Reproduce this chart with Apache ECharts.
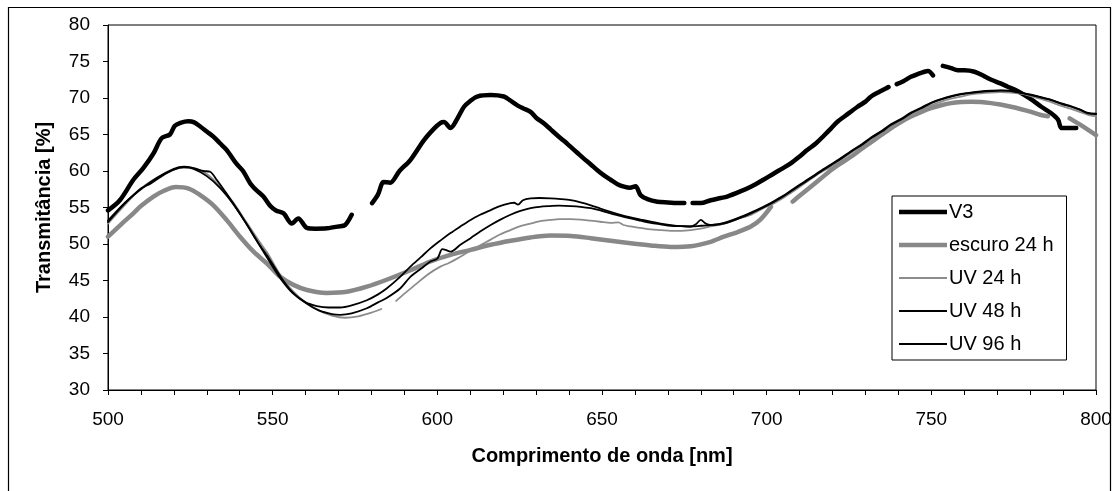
<!DOCTYPE html>
<html>
<head>
<meta charset="utf-8">
<script src="https://cdn.jsdelivr.net/npm/echarts@6/dist/echarts.min.js"></script>
<style>
html,body{margin:0;padding:0;background:#fff;}
#chart{width:1116px;height:491px;}
</style>
</head>
<body>
<div id="chart"></div>
<script>
// ---------- DATA ----------
const seriesNames = ['V3', 'escuro 24 h', 'UV 24 h', 'UV 48 h', 'UV 96 h'];
const xTicks = [500, 550, 600, 650, 700, 750, 800];
const yTicks = [30, 35, 40, 45, 50, 55, 60, 65, 70, 75, 80];

const v3X = [500,503.6,507.7,510.7,513.8,516.3,518.8,520.3,522,524.4,526,528,530,532,534,536,539,541,543.2,545,547.2,549.3,551,553.3,555.8,557.8,560.4,563,566.5,570,572,574,
  577,
  580.2,582,583.7,585.7,588.5,591.8,595.9,599,601,602,604,606.1,608.1,610,612.1,616.2,620.2,622,624.3,626,628.3,630,632.4,634.4,636.4,638.5,640.5,642.5,644.5,646.6,648.6,650.6,652.6,654.7,656.7,658.5,660.2,661.7,664,666.8,670,673.9,675,
  676.3,
  677.5,680,683,686,688,692,695.2,699,702.3,705,707.3,710,712.4,715,717.5,719.5,721.5,724,727.6,730,731.7,734,736.2,737,
  738.3,
  739.5,741.5,743.8,746,747.9,749,750.5,
  752,
  753.5,756,758,760,763.1,766,768.2,771,773.2,776,778.3,781,783.4,786.4,788.5,789.5,792,794];
const v3Y = [54.6,56.0,58.8,60.4,62.4,64.5,65.0,66.2,66.6,66.8,66.7,66.1,65.4,64.7,63.8,62.9,61.0,60.0,58.3,57.4,56.5,55.2,54.6,54.2,52.8,53.5,52.2,52.1,52.15,52.4,52.6,54.0,
  null,
  55.6,56.8,58.5,58.4,60.0,61.5,64.2,65.8,66.6,66.7,65.9,67.2,68.8,69.6,70.2,70.4,70.2,69.7,69.0,68.6,68.1,67.3,66.5,65.7,64.9,64.1,63.3,62.5,61.7,60.9,60.1,59.4,58.8,58.2,57.85,57.7,57.9,56.7,56.1,55.8,55.7,55.6,55.6,
  null,
  55.6,55.6,56.0,56.3,56.5,57.2,57.85,58.8,59.7,60.4,61.05,62.0,62.9,63.8,64.9,65.8,66.75,67.6,68.8,69.5,70.2,70.8,71.3,71.5,
  null,
  71.9,72.3,72.9,73.3,73.6,73.7,73.1,
  null,
  74.4,74.1,73.8,73.8,73.6,73.0,72.5,72.0,71.55,71.0,70.4,69.6,68.8,67.9,67.0,65.9,65.9,65.9];

const escuroX = [500,504,507.7,510,513.8,517,520.6,524.5,528,532,536,540.1,544.2,548.2,552.3,556.3,560.4,566.4,572.5,578.6,584.6,591.8,597.9,604,610.1,616.2,622.3,628.3,634.4,640.5,646.6,652.6,658.7,664.8,670.9,677,683,687,691,695.2,698,701.3,
  704.5,
  707.9,710,713.4,716,719.5,722,725.6,729,732.7,735,737.7,740,743.8,747,749.9,753,756,759,762.1,765,768.2,771,774.2,777,780.3,783,785.4,
  788.5,
  792,796,800];
const escuroY = [51.0,52.7,54.2,55.2,56.5,57.3,57.8,57.6,56.7,55.3,53.3,51.0,48.95,47.35,45.5,44.4,43.7,43.3,43.45,44.15,45.1,46.4,47.6,48.5,49.2,49.9,50.45,50.9,51.15,51.1,50.8,50.45,50.1,49.8,49.6,49.7,50.3,51.0,51.6,52.4,53.3,55.1,
  null,
  55.8,56.6,57.85,58.8,60.1,60.9,61.95,63.1,64.25,65.0,65.85,66.5,67.45,68.1,68.6,69.0,69.3,69.45,69.5,69.45,69.3,69.1,68.8,68.5,68.1,67.7,67.5,
  null,
  67.2,66.1,64.9];

const uv24X = [500,505,510,515,520,522.9,526,530,534,538,542,546,548.5,552,556,560,564,568,572,576,580,583,
  585,
  587.5,590,593.8,597,600.9,603.5,606,609,612.1,616.2,619,622.2,625,628.3,631,634.4,637,640.5,643.5,646.5,649.5,652.6,655,656.5,658.7,661.7,664.8,668,670.9,674,677,680,683,687,691,695.2,699,702.3,705,707.3,710,713.4,716,719.5,722,725.6,729,732.7,736,740,743.8,747,749.9,753,756,759,762,765,768,771,774,777,780,783,786,789,792.5,795,797.6,800];
const uv24Y = [52.8,55.3,57.6,59.1,60.2,60.5,60.4,59.6,57.9,55.7,53.0,50.3,48.7,46.0,43.6,42.0,40.9,40.2,39.9,40.1,40.6,41.1,
  null,
  42.2,43.2,44.6,45.8,46.9,47.4,48.0,48.8,49.6,50.6,51.3,51.9,52.4,52.8,53.1,53.3,53.4,53.4,53.35,53.2,53.05,52.9,52.95,52.6,52.4,52.2,52.0,51.9,51.8,51.8,51.9,52.1,52.4,52.8,53.4,54.0,54.9,55.6,56.3,57.0,57.8,58.9,59.7,60.6,61.3,62.5,63.5,64.4,65.4,66.5,67.6,68.4,69.0,69.5,69.9,70.2,70.5,70.65,70.75,70.8,70.75,70.6,70.3,69.9,69.5,69.0,68.5,68.1,67.7,67.5];

const uv48X = [500,505,510,513,517,520,523,526,530,534,538,542,546,548.2,552.3,556,560.4,564,568,570.5,574,578.6,582,584.6,588.7,591.8,595,597.9,600,601.5,602.5,604,607,610.1,613,616.2,619,622.2,625,628.3,631,634.4,637,640.5,643.5,646.6,649.5,652.6,655.6,658.7,661.7,664.8,667.8,670.9,674,677,680,683,687,691,695.2,699,702.3,705,707.3,710,713.4,716,719.5,722,725.6,729,731.7,735,737.7,741,743.8,747,749.9,753,756,759,762,765,768.2,771,774.2,777,780.3,783,786.4,789.5,792.5,795,797.6,800];
const uv48Y = [53.0,55.5,57.6,58.3,59.5,60.2,60.5,60.3,59.3,57.7,55.5,52.8,49.9,48.5,45.6,43.4,41.8,40.9,40.4,40.3,40.5,41.2,42.0,42.6,43.9,45.5,46.6,47.6,48.0,49.3,49.2,48.95,49.9,50.8,51.7,52.6,53.3,54.0,54.5,54.9,55.1,55.2,55.25,55.2,55.1,54.9,54.6,54.2,53.85,53.5,53.2,52.9,52.7,52.5,52.45,52.4,52.5,52.6,52.8,53.4,54.2,55.0,55.8,56.5,57.2,58.0,59.0,59.8,60.8,61.5,62.65,63.6,64.5,65.4,66.3,67.1,67.9,68.6,69.3,69.8,70.2,70.5,70.7,70.85,70.95,71.0,70.95,70.7,70.4,70.1,69.7,69.2,68.8,68.4,67.9,67.8];

const uv96X = [500,505,510,515,520,523,526,529,531,533,536,540,544,548.2,552.3,556,560,563.4,567,570.5,574,578.6,582,584.6,588.7,591.8,595,597.9,601,604,607,610.1,613,616.2,619,622.2,623.3,624.5,626,628.3,631,634.4,637.5,640.5,643.5,646.6,649.5,652.6,655.6,658.7,661.7,664.8,667.8,670.9,674,677,678.5,680,681.5,683,687,691,695.2,699,702.3,705,707.3,710,713.4,716,719.5,722,725.6,729,731.7,735,737.7,741,743.8,747,749.9,753,756,759,762,765,768.2,771,774.2,777,780.3,783,786.4,789.5,792.5,795,797.6,800];
const uv96Y = [53.2,55.6,57.5,59.1,60.3,60.6,60.4,60.0,59.9,58.8,56.9,54.2,51.3,48.2,45.3,43.3,42.0,41.5,41.3,41.3,41.6,42.3,43.1,43.9,45.5,46.9,48.2,49.4,50.5,51.5,52.4,53.3,54.0,54.65,55.2,55.6,55.65,55.4,56.0,56.25,56.3,56.25,56.15,56.0,55.7,55.3,54.85,54.4,54.0,53.65,53.35,53.05,52.8,52.6,52.45,52.4,52.7,53.3,52.8,52.6,52.9,53.5,54.3,55.1,55.9,56.6,57.3,58.1,59.1,59.9,60.9,61.6,62.7,63.7,64.6,65.5,66.4,67.2,68.0,68.7,69.35,69.85,70.25,70.55,70.75,70.9,71.0,71.05,71.0,70.75,70.45,70.15,69.75,69.25,68.85,68.45,67.95,67.85];

// ---------- BUILD ----------
function pairs(xs, ys) { return xs.map((x, i) => [x, ys[i] === null ? NaN : ys[i]]); }

const FONT = '"Liberation Sans", Arial, sans-serif';
const styles = [
  { color: '#000000', width: 4.5 },
  { color: '#888888', width: 4.5 },
  { color: '#8c8c8c', width: 1.8 },
  { color: '#000000', width: 1.8 },
  { color: '#000000', width: 1.8 }
];
const dataSets = [pairs(v3X, v3Y), pairs(escuroX, escuroY), pairs(uv24X, uv24Y), pairs(uv48X, uv48Y), pairs(uv96X, uv96Y)];

const legendData = seriesNames.map((name, i) => ({
  name: name,
  icon: 'path://M0 0H48V' + styles[i].width + 'H0Z',
  itemStyle: { color: styles[i].color, borderWidth: 0 }
}));

const chart = echarts.init(document.getElementById('chart'), null, { renderer: 'canvas' });
chart.setOption({
  animation: false,
  backgroundColor: '#ffffff',
  textStyle: { fontFamily: FONT },
  graphic: [{
    type: 'rect', silent: true, z: -10,
    shape: { x: 8.5, y: 7.5, width: 1102, height: 520 },
    style: { fill: 'none', stroke: '#000', lineWidth: 1.2 }
  }],
  grid: { left: 108, right: 20, top: 25, bottom: 101, show: true, borderColor: '#000', borderWidth: 1, backgroundColor: 'transparent' },
  legend: {
    orient: 'vertical', left: 892, top: 196,
    data: legendData,
    backgroundColor: '#fff', borderColor: '#000', borderWidth: 1, borderRadius: 0,
    padding: [6, 13, 6, 7],
    itemWidth: 48, itemHeight: 14, itemGap: 13,
    symbolKeepAspect: true,
    itemStyle: { borderWidth: 0 },
    textStyle: { fontFamily: FONT, fontSize: 20, color: '#000', padding: [0, 0, 0, -3] }
  },
  xAxis: {
    type: 'value', min: xTicks[0], max: xTicks[xTicks.length - 1], interval: 50,
    name: 'Comprimento de onda [nm]', nameLocation: 'middle', nameGap: 56,
    nameTextStyle: { fontFamily: FONT, fontSize: 20, fontWeight: 'bold', color: '#000' },
    axisLine: { show: true, lineStyle: { color: '#000', width: 1 } },
    axisTick: { show: true, inside: false, length: 5, lineStyle: { color: '#000' } },
    minorTick: { show: true, splitNumber: 5, length: 5, lineStyle: { color: '#000' } },
    axisLabel: { fontFamily: FONT, fontSize: 19, color: '#000', margin: 20 },
    splitLine: { show: false }
  },
  yAxis: {
    type: 'value', min: yTicks[0], max: yTicks[yTicks.length - 1], interval: 5,
    name: 'Transmitância [%]', nameLocation: 'middle', nameGap: 54,
    nameTextStyle: { fontFamily: FONT, fontSize: 20, fontWeight: 'bold', color: '#000' },
    axisLine: { show: true, lineStyle: { color: '#000', width: 1 } },
    axisTick: { show: true, inside: false, length: 5, lineStyle: { color: '#000' } },
    axisLabel: { fontFamily: FONT, fontSize: 19, color: '#000', margin: 18 },
    splitLine: { show: false }
  },
  series: seriesNames.map((name, i) => ({
    name: name, type: 'line', data: dataSets[i],
    showSymbol: false, symbol: 'none', smooth: 0.3, connectNulls: false,
    lineStyle: { color: styles[i].color, width: styles[i].width, join: 'round', cap: 'round' },
    itemStyle: { color: styles[i].color },
    emphasis: { disabled: true }
  }))
});
</script>
</body>
</html>
